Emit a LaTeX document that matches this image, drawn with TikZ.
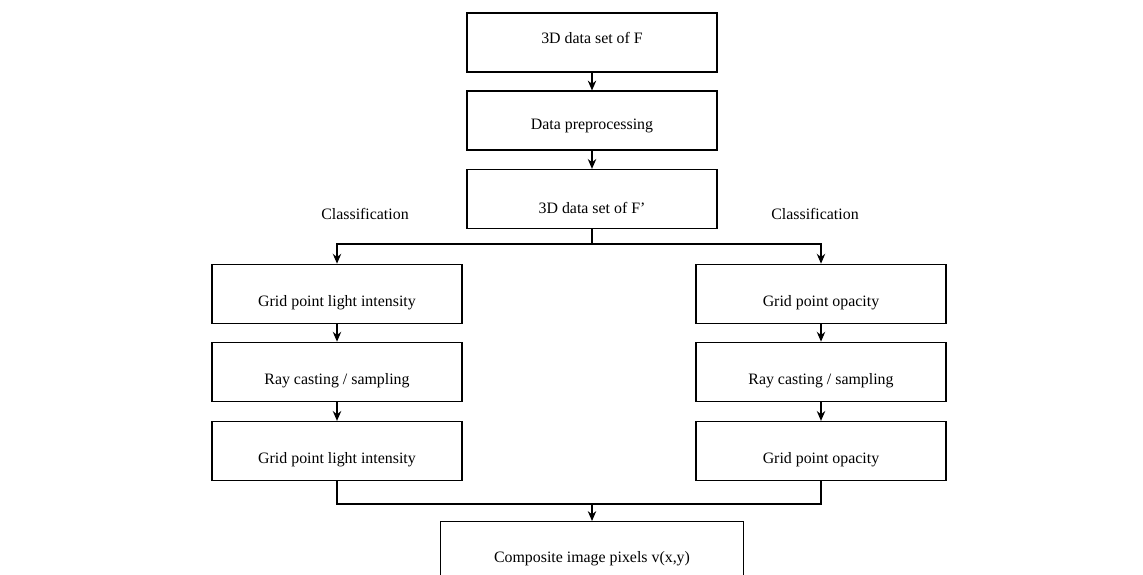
\documentclass[tikz,border=0pt]{standalone}
\usepackage{fontspec}
\setmainfont{Liberation Serif}
\usepackage{tikz}
\usetikzlibrary{arrows.meta}

\tikzset{
	stepbox/.style={draw, line width=0.9pt, minimum width=6.25cm, minimum height=1.475cm, text height=0.65cm, text depth=0cm, font=\fontsize{11.3}{13}\selectfont},
	flow/.style={line width=0.9pt, -{Stealth[length=7pt, width=6pt]}},
	link/.style={line width=0.9pt}
}

\begin{document}
\begin{tikzpicture}
		%%%%% START %%%%%
		
		\useasboundingbox (0, 0) rectangle (28.575, 14.375);
		
		\node[stepbox, text height=0.2cm, text depth=0.15cm] (fset) at (14.8, 13.31) {3D data set of F};
		\node[stepbox, text height=0.45cm] (prep) at (14.8, 11.36) {Data preprocessing};
		\node[stepbox, text height=0.75cm] (fpset) at (14.8, 9.4) {3D data set of F'};
		
		\node[font=\fontsize{11.3}{13}\selectfont] (classl) at (9.125, 9.03) {Classification};
		\node[font=\fontsize{11.3}{13}\selectfont] (classr) at (20.375, 9.03) {Classification};
		
		\node[stepbox] (lightA) at (8.425, 7.03) {Grid point light intensity};
		\node[stepbox] (rayL) at (8.425, 5.08) {Ray casting / sampling};
		\node[stepbox] (lightB) at (8.425, 3.1) {Grid point light intensity};
		
		\node[stepbox] (opacA) at (20.525, 7.03) {Grid point opacity};
		\node[stepbox] (rayR) at (20.525, 5.08) {Ray casting / sampling};
		\node[stepbox] (opacB) at (20.525, 3.1) {Grid point opacity};
		
		\node[stepbox, minimum width=7.575cm, text height=0.55cm, anchor=north] (comp) at (14.8, 1.35) {Composite image pixels v(x,y)};
		
		\coordinate (split) at (14.8, 8.275);
		\coordinate (merge) at (14.8, 1.775);
		
		\draw[flow] (fset) -- (prep);
		\draw[flow] (prep) -- (fpset);
		
		\draw[link] (fpset) -- (split);
		\draw[flow] (split) -| (lightA);
		\draw[flow] (split) -| (opacA);
		
		\draw[flow] (lightA) -- (rayL);
		\draw[flow] (rayL) -- (lightB);
		\draw[flow] (opacA) -- (rayR);
		\draw[flow] (rayR) -- (opacB);
		
		\draw[link] (lightB) |- (merge);
		\draw[link] (opacB) |- (merge);
		\draw[flow] (merge) -- (comp);
		
		%%%%% END %%%%%
	\end{tikzpicture}
\end{document}
